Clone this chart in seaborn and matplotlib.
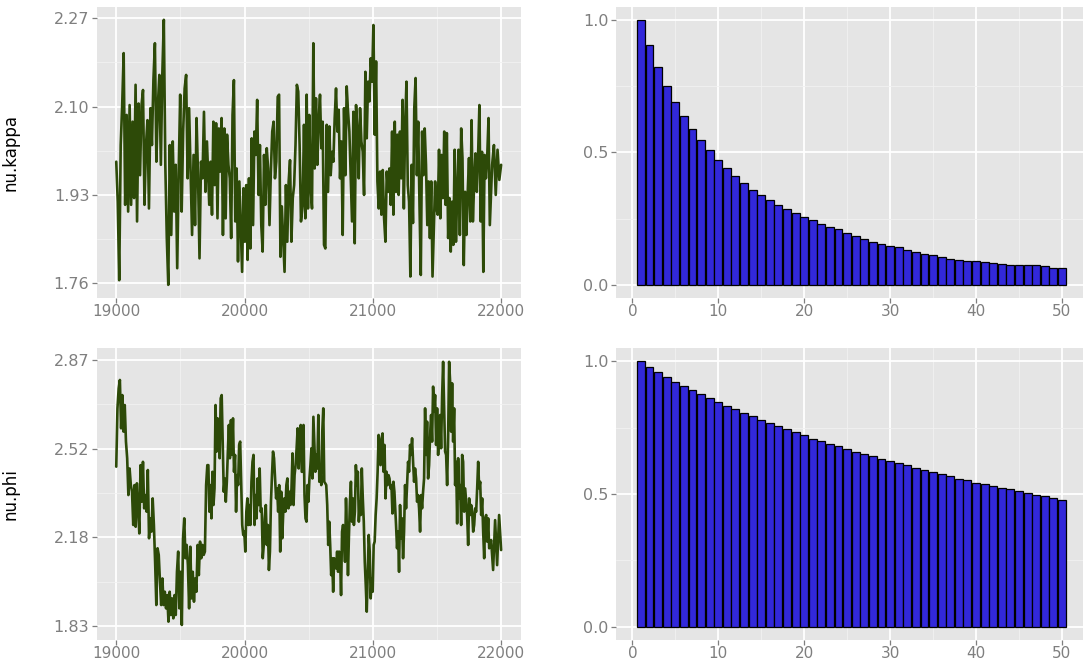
import numpy as np
import matplotlib
matplotlib.use("Agg")
import matplotlib.pyplot as plt
import seaborn as sns
from matplotlib.ticker import FixedLocator

# ---------------- data ----------------
# nu.kappa trace (in four stretches + tail)
kappa_seg1 = [1.994, 1.917, 1.766, 2.026, 2.103, 2.203, 1.911, 2.084, 1.898, 2.103,
              1.911, 2.071, 1.924, 2.142, 1.879, 2.106, 1.968, 2.103, 2.132, 1.911,
              2.026, 2.074, 1.904, 2.097, 2.026, 2.151, 2.222, 1.994, 2.103, 2.161,
              1.988, 2.164, 2.267, 1.988, 1.847, 1.757, 2.026, 1.853, 2.033, 1.898,
              1.988, 1.789, 1.975, 2.123, 1.898, 2.052, 2.135, 2.161, 1.962, 2.097,
              1.975, 1.853, 2.007, 1.872, 2.078, 1.968, 1.808, 1.994, 1.962, 2.090,
              1.936, 2.033]
kappa_seg2 = [1.911, 1.994, 1.892, 2.071, 1.949, 2.068, 1.885, 2.058, 1.975, 2.078,
              1.853, 2.058, 1.885, 2.046, 1.988, 1.962, 1.847, 2.084, 2.151, 1.879,
              1.981, 1.802, 1.956, 1.866, 1.782, 1.943, 1.840, 1.949, 1.805, 1.962,
              1.827, 2.039, 1.872, 2.052, 2.007, 2.113, 1.930, 2.026, 1.872, 1.821,
              2.007, 1.911, 2.020, 1.981, 1.872, 1.975, 2.052, 2.071, 1.962, 1.994,
              2.119, 2.123, 1.811, 1.908, 1.847, 1.782, 1.949, 1.840, 1.956, 1.997,
              1.840, 1.924, 1.949, 2.026, 2.142, 2.129, 2.026, 1.879]
kappa_seg3 = [1.911, 2.065, 1.885, 2.123, 1.904, 2.084, 1.943, 1.904, 2.222, 1.981,
              2.116, 1.988, 2.074, 2.123, 2.020, 2.071, 1.834, 1.827, 2.065, 1.936,
              2.062, 1.968, 2.013, 1.994, 2.078, 2.135, 2.052, 2.094, 1.962, 2.033,
              1.853, 2.097, 1.968, 2.139, 2.090, 2.052, 1.962, 1.879, 2.090, 1.837,
              2.103, 2.052, 1.962, 2.097, 2.033, 2.013, 1.930, 2.167, 2.039, 2.148,
              2.110, 2.193, 2.148, 2.257, 2.046, 2.187, 1.956, 1.904, 1.975, 1.892,
              1.978, 1.885, 1.840, 1.975, 1.936, 1.981, 1.911, 2.052, 1.892, 2.071]
kappa_seg4 = [1.936, 2.046, 1.930, 2.052, 1.962, 2.113, 1.904, 2.065, 2.148, 1.949,
              1.917, 1.773, 1.988, 1.876, 2.097, 2.155, 1.968, 2.071, 1.911, 1.776,
              2.052, 1.968, 2.058, 1.988, 1.872, 1.956, 1.847, 1.956, 1.773, 1.866,
              1.956, 1.904, 1.892, 2.017, 1.885, 2.007, 1.924, 2.052, 1.911, 2.049,
              1.847, 1.924, 1.821, 1.917, 1.834, 2.017, 1.840, 1.936, 2.017, 1.853,
              2.058, 2.001, 1.795, 1.936, 1.853, 1.933, 2.001, 1.879, 2.074, 1.879,
              1.956, 2.010, 1.936, 2.007, 2.103, 1.879, 2.013, 1.782, 2.007, 1.962,
              2.004, 2.078, 1.872]
kappa_seg5 = [1.988, 2.026, 1.930, 2.017, 1.959, 1.988]
kappa_iter_spans = [(19000, 19707), (19725, 20440), (20453, 21171), (21181, 21912), (21930, 22000)]

# nu.phi trace
phi_seg1 = [2.453, 2.681, 2.759, 2.792, 2.603, 2.733, 2.590, 2.694, 2.551, 2.486,
            2.342, 2.446, 2.381, 2.355, 2.225, 2.381, 2.218, 2.388, 2.297, 2.192,
            2.459, 2.316, 2.472, 2.290, 2.342, 2.277, 2.440, 2.173, 2.251, 2.199,
            2.329, 2.225, 2.081, 1.912, 2.134, 2.108, 2.003, 1.912, 2.016, 1.912,
            1.964, 1.899, 1.951, 1.847, 1.964, 1.873, 1.938, 1.860, 1.951, 1.873,
            2.042, 2.121, 1.899, 2.042, 1.834, 2.173, 2.251, 2.095, 2.147, 2.068,
            1.899, 2.140, 1.938, 2.042, 1.925, 2.016, 1.964, 2.147, 2.029, 2.160,
            2.095, 2.147, 2.108, 2.121, 2.381, 2.459]
phi_seg2 = [2.459, 2.277, 2.381, 2.251, 2.433, 2.303, 2.368, 2.694, 2.512, 2.642,
            2.577, 2.486, 2.720, 2.733, 2.551, 2.355, 2.407, 2.316, 2.394, 2.512,
            2.616, 2.486, 2.635, 2.499, 2.642, 2.433, 2.499, 2.277, 2.420, 2.381,
            2.538, 2.551, 2.394, 2.225, 2.186, 2.199, 2.121, 2.277, 2.329, 2.225,
            2.303, 2.225, 2.394, 2.472, 2.499, 2.225, 2.342, 2.251, 2.407, 2.303,
            2.446, 2.277, 2.290, 2.095, 2.147, 2.251, 2.303, 2.147, 2.225, 2.049,
            2.121, 2.316, 2.420, 2.512, 2.486, 2.407, 2.329, 2.368, 2.277, 2.381,
            2.121, 2.355, 2.173, 2.277, 2.329, 2.277, 2.381, 2.407, 2.290, 2.355,
            2.303, 2.368, 2.505, 2.303, 2.420, 2.459, 2.525, 2.603, 2.446, 2.590,
            2.616, 2.433]
phi_seg3 = [2.433, 2.616, 2.342, 2.251, 2.238, 2.381, 2.316, 2.407, 2.459, 2.525,
            2.407, 2.648, 2.538, 2.433, 2.499, 2.446, 2.655, 2.394, 2.446, 2.381,
            2.590, 2.681, 2.394, 2.388, 2.381, 2.303, 2.147, 2.238, 2.147, 2.029,
            2.095, 1.964, 2.095, 2.081, 2.055, 2.121, 2.042, 2.121, 2.095, 1.951,
            2.199, 2.225, 2.173, 2.081, 2.329, 2.199, 2.029, 2.186, 2.316, 2.394,
            2.238, 2.329, 2.225, 2.277, 2.459, 2.381, 2.433, 2.238, 2.316, 2.264,
            2.446, 2.329, 2.238, 2.081, 1.990, 1.886, 2.042, 2.186, 2.121, 1.938,
            2.016, 1.964, 2.147, 2.160, 2.264, 2.329, 2.433, 2.577, 2.512, 2.459,
            2.564, 2.583, 2.433, 2.538, 2.329, 2.433, 2.381, 2.420, 2.407, 2.368,
            2.381, 2.270, 2.394, 2.355, 2.277]
phi_seg4 = [2.225, 2.134, 2.199, 2.042, 2.303, 2.173, 2.251, 2.095, 2.199, 2.381,
            2.290, 2.381, 2.472, 2.433, 2.538, 2.499, 2.564, 2.472, 2.394, 2.446,
            2.407, 2.316, 2.342, 2.290, 2.199, 2.342, 2.290, 2.355, 2.407, 2.681,
            2.499, 2.629, 2.407, 2.459, 2.577, 2.655, 2.551, 2.766, 2.668, 2.733,
            2.538, 2.681, 2.499, 2.590, 2.655, 2.525, 2.727, 2.863, 2.681, 2.512,
            2.499, 2.381, 2.564, 2.863, 2.785, 2.590, 2.779, 2.551, 2.681, 2.381,
            2.472, 2.231, 2.486, 2.329, 2.381, 2.225, 2.499, 2.472, 2.277, 2.368,
            2.316, 2.264, 2.147, 2.329, 2.264, 2.303, 2.277, 2.199, 2.225, 2.290,
            2.277, 2.368, 2.472, 2.368, 2.394, 2.264, 2.329, 2.199, 2.095, 2.251,
            2.264, 2.160, 2.251, 2.134]
phi_seg5 = [2.166, 2.049, 2.244, 2.068, 2.264, 2.127]
phi_iter_spans = [(19000, 19710), (19718, 20446), (20452, 21176), (21181, 21907), (21922, 22000)]

# autocorrelations, lags 1..50
lags = list(range(1, 51))
kappa_acf = [1.000, 0.905, 0.823, 0.753, 0.691, 0.638, 0.589, 0.546, 0.508, 0.471,
             0.440, 0.411, 0.384, 0.359, 0.338, 0.319, 0.300, 0.285, 0.270, 0.255,
             0.244, 0.231, 0.219, 0.209, 0.195, 0.183, 0.173, 0.163, 0.155, 0.148,
             0.141, 0.131, 0.123, 0.117, 0.113, 0.106, 0.099, 0.094, 0.089, 0.088,
             0.085, 0.082, 0.078, 0.075, 0.074, 0.073, 0.073, 0.070, 0.065, 0.063]
phi_acf = [1.000, 0.979, 0.958, 0.941, 0.923, 0.906, 0.891, 0.877, 0.862, 0.848,
           0.833, 0.819, 0.805, 0.792, 0.779, 0.766, 0.755, 0.743, 0.732, 0.721,
           0.709, 0.699, 0.689, 0.679, 0.669, 0.659, 0.650, 0.642, 0.633, 0.624,
           0.615, 0.608, 0.599, 0.590, 0.581, 0.574, 0.566, 0.558, 0.551, 0.543,
           0.536, 0.530, 0.523, 0.517, 0.511, 0.504, 0.498, 0.492, 0.486, 0.479]

kappa_ticks = [1.76, 1.93, 2.10, 2.27]
kappa_ticklabels = ["1.76", "1.93", "2.10", "2.27"]
phi_ticks = [1.83, 2.1767, 2.5233, 2.87]
phi_ticklabels = ["1.83", "2.18", "2.52", "2.87"]
iter_ticks = [19000, 20000, 21000, 22000]
lag_ticks = [0, 10, 20, 30, 40, 50]
acf_ticks = [0.0, 0.5, 1.0]
acf_ticklabels = ["0.0", "0.5", "1.0"]


def build(segs, spans):
    xs, ys = [], []
    for seg, (a, b) in zip(segs, spans):
        xs.extend(np.linspace(a, b, len(seg)))
        ys.extend(seg)
    return np.array(xs), np.array(ys)


kx, ky = build([kappa_seg1, kappa_seg2, kappa_seg3, kappa_seg4, kappa_seg5], kappa_iter_spans)
px, py = build([phi_seg1, phi_seg2, phi_seg3, phi_seg4, phi_seg5], phi_iter_spans)

# ---------------- style ----------------
sns.set_theme(style="darkgrid")
plt.rcParams["font.family"] = ["DejaVu Sans"]

BG = "#E5E5E5"
LINE = "#2D4A08"
BAR = "#3228DA"
TICKC = "#7F7F7F"

fig = plt.figure(figsize=(10.86, 6.62), dpi=100)
W, H = 1086, 662


def add_ax(l, t, r, b):
    return fig.add_axes([l / W, 1 - b / H, (r - l) / W, (b - t) / H])


ax_tl = add_ax(97, 7, 521, 298)
ax_tr = add_ax(616, 7, 1083, 298)
ax_bl = add_ax(97, 348, 521, 640)
ax_br = add_ax(616, 348, 1083, 640)


def style(ax, xmaj, xmin, ymaj, ymin, ylabels, xlabels=None):
    ax.set_facecolor(BG)
    for s in ax.spines.values():
        s.set_visible(False)
    ax.xaxis.set_major_locator(FixedLocator(xmaj))
    ax.xaxis.set_minor_locator(FixedLocator(xmin))
    ax.yaxis.set_major_locator(FixedLocator(ymaj))
    ax.yaxis.set_minor_locator(FixedLocator(ymin))
    ax.set_yticklabels(ylabels)
    if xlabels is not None:
        ax.set_xticklabels(xlabels)
    ax.grid(True, which="major", color="white", linewidth=1.3)
    ax.grid(True, which="minor", color="#F2F2F2", linewidth=0.6)
    ax.set_axisbelow(True)
    ax.tick_params(which="major", length=3.5, width=0.9, color=TICKC,
                   labelcolor=TICKC, bottom=True, left=True)
    ax.tick_params(axis="y", which="major", pad=2, labelsize=11.5)
    ax.tick_params(axis="x", which="major", pad=1, labelsize=11)
    ax.tick_params(which="minor", length=0)
    ax.set_xlabel("")
    ax.set_ylabel("")


# traces
sns.lineplot(x=kx, y=ky, ax=ax_tl, color=LINE, linewidth=1.9, sort=False)
sns.lineplot(x=px, y=py, ax=ax_bl, color=LINE, linewidth=1.9, sort=False)

for ax, yt, ytl, ylim, lab in [
    (ax_tl, kappa_ticks, kappa_ticklabels, (1.7317, 2.2917), "nu.kappa"),
    (ax_bl, phi_ticks, phi_ticklabels, (1.7753, 2.917), "nu.phi"),
]:
    ax.set_xlim(18850, 22155)
    ax.set_ylim(*ylim)
    yminor = [(yt[i] + yt[i + 1]) / 2 for i in range(len(yt) - 1)]
    style(ax, iter_ticks, [19500, 20500, 21500], yt, yminor, ytl,
          [str(v) for v in iter_ticks])
    ax.set_ylabel(lab, color="black", fontsize=12,
                  family=["Liberation Sans Narrow", "DejaVu Sans Condensed", "DejaVu Sans"])
    ax.yaxis.set_label_coords(-0.182, 0.5)

# ACF bars
for ax, acf in [(ax_tr, kappa_acf), (ax_br, phi_acf)]:
    sns.barplot(x=lags, y=acf, ax=ax, native_scale=True, color=BAR, saturation=1,
                edgecolor="black", linewidth=0.9, width=0.92)
    ax.set_xlim(-1.9, 52.45)
    ax.set_ylim(-0.05, 1.05)
    style(ax, lag_ticks, [5, 15, 25, 35, 45], acf_ticks, [0.25, 0.75], acf_ticklabels,
          [str(v) for v in lag_ticks])

fig.savefig("out.png", dpi=100, facecolor="white")
